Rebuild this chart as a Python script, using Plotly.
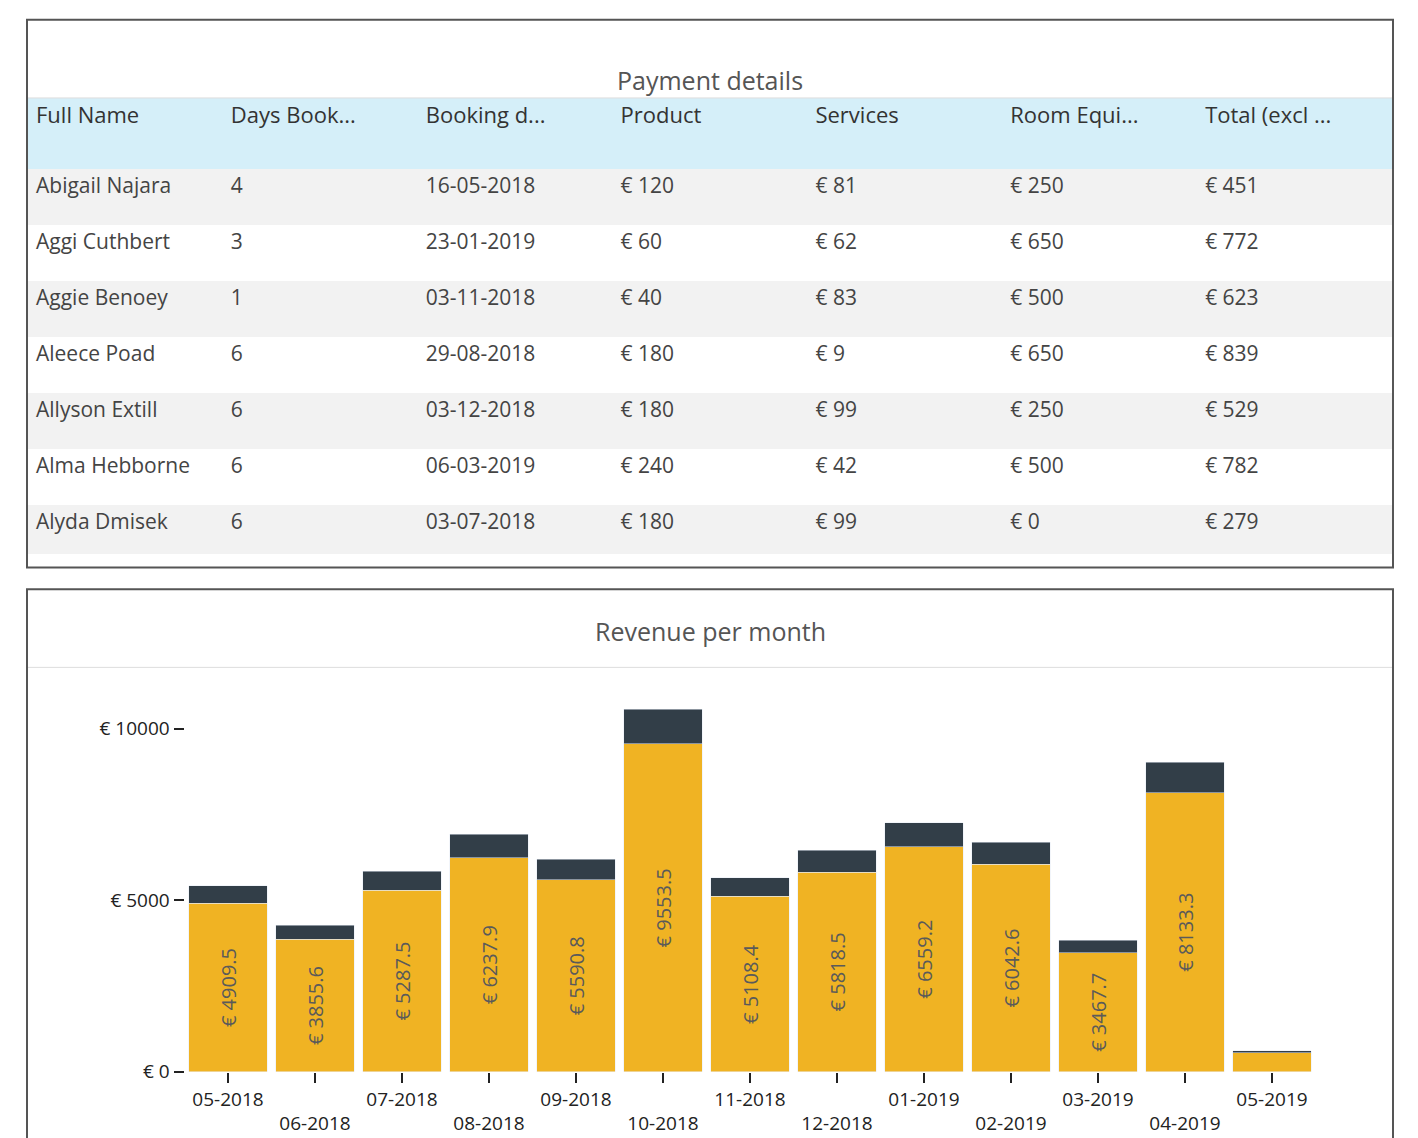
import plotly.graph_objects as go

W, H = 1418, 1138

# table data
headers = ["Full Name", "Days Book...", "Booking d...", "Product", "Services", "Room Equi...", "Total (excl ..."]
names = ["Abigail Najara", "Aggi Cuthbert", "Aggie Benoey", "Aleece Poad", "Allyson Extill", "Alma Hebborne", "Alyda Dmisek"]
days = [4, 3, 1, 6, 6, 6, 6]
dates = ["16-05-2018", "23-01-2019", "03-11-2018", "29-08-2018", "03-12-2018", "06-03-2019", "03-07-2018"]
product = [120, 60, 40, 180, 180, 240, 180]
services = [81, 62, 83, 9, 99, 42, 99]
room = [250, 650, 500, 650, 250, 500, 0]
total = [451, 772, 623, 839, 529, 782, 279]

# bar data
months = ["05-2018", "06-2018", "07-2018", "08-2018", "09-2018", "10-2018", "11-2018",
          "12-2018", "01-2019", "02-2019", "03-2019", "04-2019", "05-2019"]
revenue = [4909.5, 3855.6, 5287.5, 6237.9, 5590.8, 9553.5, 5108.4,
           5818.5, 6559.2, 6042.6, 3467.7, 8133.3, 550]
extra = [510, 410, 560, 680, 600, 1020, 540, 640, 700, 640, 365, 890, 60]

eur = lambda v: [f"€ {x}" for x in v]
fig = go.Figure()

fig.add_trace(go.Table(
    domain=dict(x=[20 / W, 1384 / W], y=[1 - 553 / H, 1 - 92 / H]),
    columnwidth=[1] * 7,
    header=dict(values=headers, fill_color="#d5eff9", line_color="#d5eff9",
                align="left", height=70,
                font=dict(family="Open Sans", size=22, color="#333")),
    cells=dict(values=[names, days, dates, eur(product), eur(services), eur(room), eur(total)],
               fill_color=[["#f2f2f2", "white"] * 4][0:1] * 7 if False else [["#f2f2f2" if i % 2 == 0 else "white" for i in range(7)]] * 7,
               line_color="rgba(0,0,0,0)", align="left", height=56,
               font=dict(family="Open Sans", size=21, color="#444")),
))

fig.add_trace(go.Bar(
    x=list(range(13)), y=revenue, marker_color="#f0b323",
    text=[f"€ {v}" for v in revenue[:-1]] + [""], textposition="inside",
    insidetextanchor="middle", textangle=-90,
    textfont=dict(family="Open Sans", size=20, color="#5a5a5a"),
    hoverinfo="skip",
))
fig.add_trace(go.Bar(x=list(range(13)), y=extra, marker_color="#323e48", hoverinfo="skip"))

ticktext = [m if i % 2 == 0 else "<br>" + m for i, m in enumerate(months)]
fig.update_layout(
    width=W, height=H, margin=dict(l=0, r=0, t=0, b=0),
    paper_bgcolor="white", plot_bgcolor="white",
    barmode="stack", bargap=0.1, showlegend=False,
    font=dict(family="Open Sans", color="#222"),
    xaxis=dict(domain=[176.5 / W, 1307.5 / W], range=[-0.5, 12.5],
               tickvals=list(range(13)), ticktext=ticktext, ticks="outside",
               ticklen=10, tickwidth=2, tickcolor="#222", showgrid=False,
               tickfont=dict(size=19), zeroline=False),
    yaxis=dict(domain=[1 - 1076 / H, 1 - 700 / H], range=[0, 10836],
               tickvals=[0, 5000, 10000], ticktext=["€ 0", "€ 5000", "€ 10000"],
               ticks="outside", ticklen=10, tickwidth=2, tickcolor="#222",
               showgrid=False, zeroline=False, tickfont=dict(size=19)),
)

# panels
for y0, y1 in [(12, 566), (588, 1150)]:
    fig.add_shape(type="rect", xref="paper", yref="paper",
                  x0=19 / W, x1=1385 / W, y0=1 - y1 / H, y1=1 - y0 / H,
                  line=dict(color="#555", width=2), layer="below")
for yl in [91, 667]:
    fig.add_shape(type="line", xref="paper", yref="paper",
                  x0=20 / W, x1=1384 / W, y0=1 - yl / H, y1=1 - yl / H,
                  line=dict(color="#ddd", width=1))
for t, yt in [("Payment details", 54), ("Revenue per month", 630)]:
    fig.add_annotation(text=t, xref="paper", yref="paper", x=702 / W, y=1 - yt / H,
                       showarrow=False, font=dict(size=25, color="#555"))

fig.write_html("out.html")
